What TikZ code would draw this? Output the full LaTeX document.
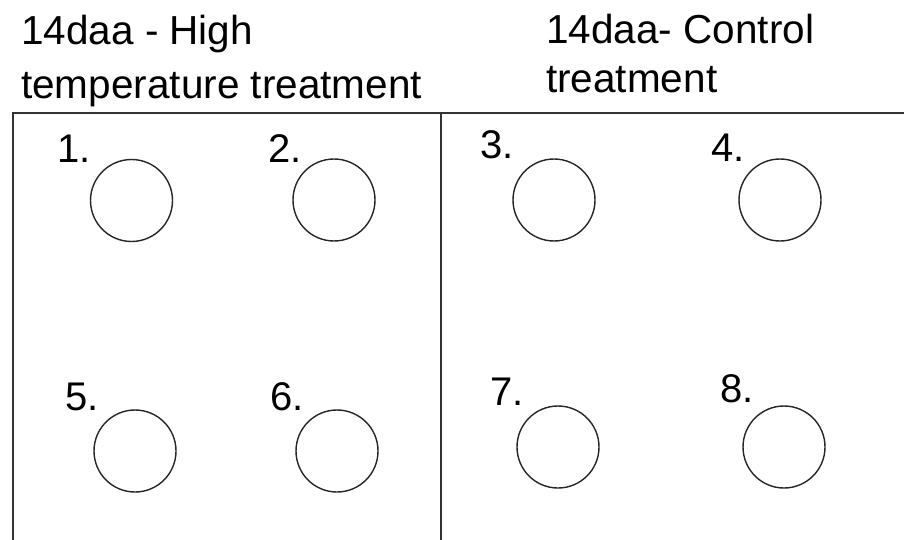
\documentclass[tikz,border=0pt]{standalone}
\usepackage{fontspec}
\setmainfont{Liberation Sans}
\begin{document}
\begin{tikzpicture}[x=1pt,y=-1pt,
  title/.style={anchor=base west,inner sep=0pt,font=\fontsize{40.5}{46}\selectfont},
  num/.style={anchor=base west,inner sep=0pt,font=\fontsize{40}{46}\selectfont},
  well/.style={draw=black!85,line width=1.4pt,circle,minimum size=82pt,inner sep=0pt},
  frame/.style={draw=black!80,line width=2pt}]
\useasboundingbox[fill=white] (0,0) rectangle (904,540);
% titles
\node[title] (t1a) at (21,45) {14daa - High};
\node[title] (t1b) at (21,99) {temperature treatment};
\node[title] (t2a) at (546,44) {14daa- Control};
\node[title] (t2b) at (546,93) {treatment};
% frame
\draw[frame] (13,540) -- (13,113) -- (904,113);
\draw[frame] (441,113) -- (441,540);
% numbers
\node[num] (n1) at (57.5,163) {1.};
\node[num] (n2) at (268,163) {2.};
\node[num] (n3) at (480,159) {3.};
\node[num] (n4) at (711,162) {4.};
\node[num] (n5) at (65,410) {5.};
\node[num] (n6) at (270,410) {6.};
\node[num] (n7) at (490,405) {7.};
\node[num] (n8) at (720,402) {8.};
% wells
\node[well] (c1) at (131.5,200.5) {};
\node[well] (c2) at (334,200) {};
\node[well] (c3) at (554,200) {};
\node[well] (c4) at (780,200) {};
\node[well] (c5) at (135,451) {};
\node[well] (c6) at (337,451) {};
\node[well] (c7) at (558,447) {};
\node[well] (c8) at (784,447) {};
\end{tikzpicture}
\end{document}
